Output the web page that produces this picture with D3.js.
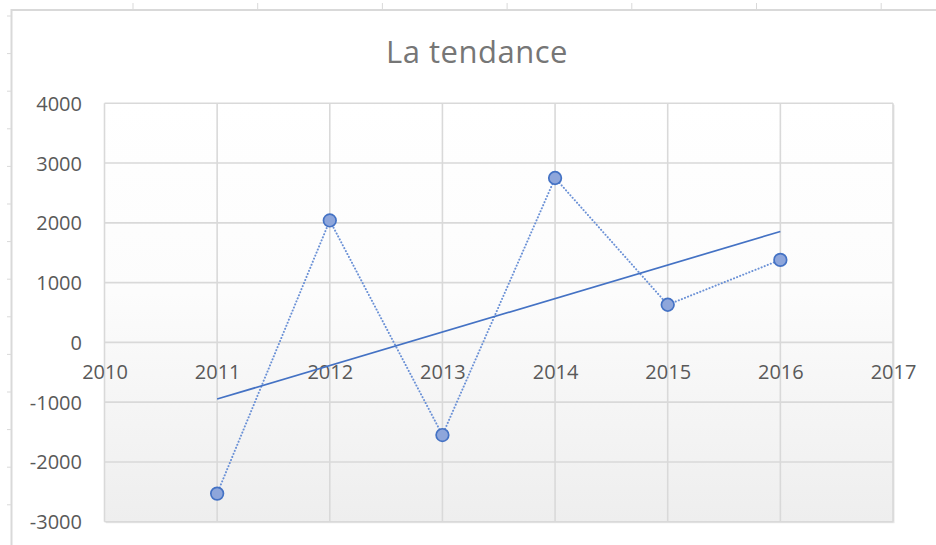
<!DOCTYPE html>
<html><head><meta charset="utf-8">
<script src="https://cdn.jsdelivr.net/npm/d3@7"></script>
<style>html,body{margin:0;padding:0;background:#fff;}svg{display:block;}</style>
</head><body>
<svg id="c" width="936" height="545"></svg>
<script>
const years = [2011, 2012, 2013, 2014, 2015, 2016];
const values = [-2530, 2040, -1550, 2750, 630, 1380];
const xTicks = [2010, 2011, 2012, 2013, 2014, 2015, 2016, 2017];
const yTicks = [-3000, -2000, -1000, 0, 1000, 2000, 3000, 4000];
const title = "La tendance";

const svg = d3.select("#c");
const font = "'Open Sans', 'Segoe UI', sans-serif";
const fmt = d => String(d);

// spreadsheet background decoration
const sheetCols = d3.range(7).map(i => 133 + i * 124.7);
svg.selectAll("line.col").data(sheetCols).enter().append("line")
  .attr("x1", d => d).attr("x2", d => d).attr("y1", 3).attr("y2", 10)
  .attr("stroke", "#d9d9d9").attr("stroke-width", 1);
const sheetRows = d3.range(14).map(i => 16 + i * 37.6);
svg.selectAll("line.row").data(sheetRows).enter().append("line")
  .attr("x1", 7).attr("x2", 11).attr("y1", d => d).attr("y2", d => d)
  .attr("stroke", "#d9d9d9").attr("stroke-width", 1);
// chart border
svg.append("path").attr("d", "M11.5,545 V10 H936")
  .attr("fill", "none").attr("stroke", "#d9d9d9").attr("stroke-width", 2);

const x = d3.scaleLinear().domain([2010, 2017]).range([104.5, 893]);
const y = d3.scaleLinear().domain([-3000, 4000]).range([521.7, 103.3]);

const defs = svg.append("defs");
const g = defs.append("linearGradient").attr("id", "pg").attr("x1", 0).attr("y1", 0).attr("x2", 0).attr("y2", 1);
g.append("stop").attr("offset", "0%").attr("stop-color", "#ffffff");
g.append("stop").attr("offset", "45%").attr("stop-color", "#fcfcfc");
g.append("stop").attr("offset", "100%").attr("stop-color", "#eeeeee");

// plot shadow + area
svg.append("rect").attr("x", x(2010) + 1.5).attr("y", y(4000) + 1.5)
  .attr("width", x(2017) - x(2010)).attr("height", y(-3000) - y(4000))
  .attr("fill", "#e6e6e6");
svg.append("rect").attr("x", x(2010)).attr("y", y(4000))
  .attr("width", x(2017) - x(2010)).attr("height", y(-3000) - y(4000))
  .attr("fill", "url(#pg)");

// gridlines
svg.append("g").selectAll("line").data(yTicks).enter().append("line")
  .attr("x1", x(2010)).attr("x2", x(2017)).attr("y1", d => y(d)).attr("y2", d => y(d))
  .attr("stroke", "#d9d9d9").attr("stroke-width", 1.6);
svg.append("g").selectAll("line").data(xTicks).enter().append("line")
  .attr("y1", y(4000)).attr("y2", y(-3000)).attr("x1", d => x(d)).attr("x2", d => x(d))
  .attr("stroke", "#d9d9d9").attr("stroke-width", 1.6);

// y axis labels
const yAxis = d3.axisLeft(y).tickValues(yTicks).tickSize(0).tickPadding(0).tickFormat(fmt);
const ya = svg.append("g").attr("transform", "translate(82,0)").call(yAxis);
ya.select(".domain").remove();
ya.selectAll("text").attr("font-family", font).attr("font-size", 20).attr("fill", "#595959").attr("dy", "0.35em");

// x axis labels at zero line
const xAxis = d3.axisBottom(x).tickValues(xTicks).tickSize(0).tickPadding(0).tickFormat(fmt);
const xa = svg.append("g").attr("transform", `translate(0,${y(0)})`).call(xAxis);
xa.select(".domain").remove();
xa.selectAll("text").attr("font-family", font).attr("font-size", 20).attr("fill", "#595959")
  .attr("dy", null).attr("y", 37);

// series dotted line
const line = d3.line().x((d, i) => x(years[i])).y(d => y(d));
svg.append("path").datum(values).attr("d", line)
  .attr("fill", "none").attr("stroke", "#6b91d6").attr("stroke-width", 2)
  .attr("stroke-dasharray", "0.1 3.2").attr("stroke-linecap", "round");

// linear trend line
const mx = d3.mean(years), my = d3.mean(values);
const slope = d3.sum(years, (t, i) => (t - mx) * (values[i] - my)) / d3.sum(years, t => (t - mx) * (t - mx));
const trend = t => my + slope * (t - mx);
const tx = d3.extent(years);
svg.append("line")
  .attr("x1", x(tx[0])).attr("y1", y(trend(tx[0])))
  .attr("x2", x(tx[1])).attr("y2", y(trend(tx[1])))
  .attr("stroke", "#4472c4").attr("stroke-width", 1.7);

// markers
svg.append("g").selectAll("circle").data(values).enter().append("circle")
  .attr("cx", (d, i) => x(years[i])).attr("cy", d => y(d)).attr("r", 6.3)
  .attr("fill", "#8ea6db").attr("stroke", "#4472c4").attr("stroke-width", 1.7);

// title
svg.append("text").attr("x", 477).attr("y", 63).attr("text-anchor", "middle")
  .attr("font-family", font).attr("font-size", 31).attr("letter-spacing", 0.5)
  .attr("fill", "#767676").text(title);
</script>
</body></html>
